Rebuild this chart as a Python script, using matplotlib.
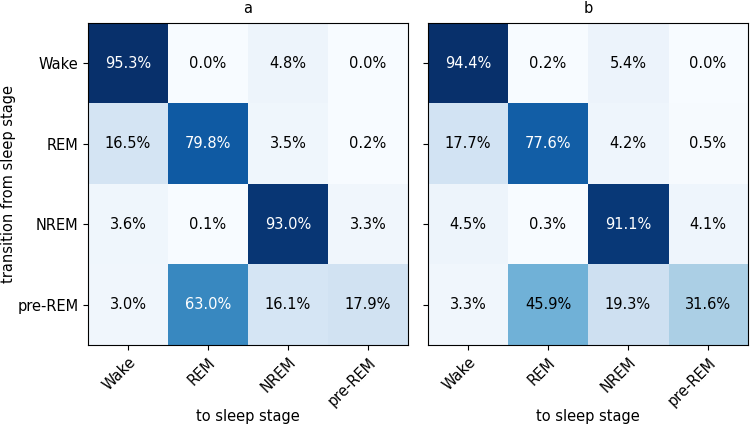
import numpy as np
import matplotlib
matplotlib.use("Agg")
import matplotlib.pyplot as plt

stages = ["Wake", "REM", "NREM", "pre-REM"]
panel_titles = ["a", "b"]

# transition percentages, rows = from stage, columns = to stage
trans_a = [[95.3, 0.0, 4.8, 0.0],
           [16.5, 79.8, 3.5, 0.2],
           [3.6, 0.1, 93.0, 3.3],
           [3.0, 63.0, 16.1, 17.9]]
trans_b = [[94.4, 0.2, 5.4, 0.0],
           [17.7, 77.6, 4.2, 0.5],
           [4.5, 0.3, 91.1, 4.1],
           [3.3, 45.9, 19.3, 31.6]]

fig = plt.figure(figsize=(7.51, 4.25), dpi=100)
ax_a = fig.add_axes([88 / 751, 80 / 425, 320 / 751, 322 / 425])
ax_b = fig.add_axes([428 / 751, 80 / 425, 320 / 751, 322 / 425])

for ax, title, mat in zip([ax_a, ax_b], panel_titles, [trans_a, trans_b]):
    m = np.array(mat) / 100.0
    ax.imshow(m, cmap="Blues", vmin=0, vmax=m.max(), aspect="auto")
    thresh = m.max() / 2
    for i in range(m.shape[0]):
        for j in range(m.shape[1]):
            ax.text(j, i, "%.1f%%" % mat[i][j], ha="center", va="center",
                    fontsize=10.5,
                    color="white" if m[i, j] > thresh else "black")
    ax.set_xticks(range(len(stages)))
    ax.set_xticklabels(stages, rotation=45, ha="right", rotation_mode="anchor",
                       fontsize=10.5)
    ax.set_yticks(range(len(stages)))
    ax.set_title(title, fontsize=10.5, pad=7)
    ax.set_xlabel("to sleep stage", fontsize=10.5)
    ax.xaxis.set_label_coords(0.5, -0.2)

ax_a.set_yticklabels(stages, fontsize=10.5)
ax_a.set_ylabel("transition from sleep stage", fontsize=10.5)
ax_a.yaxis.set_label_coords(-0.226, 0.5)
ax_b.set_yticklabels([])

fig.savefig("out.png", dpi=100)
